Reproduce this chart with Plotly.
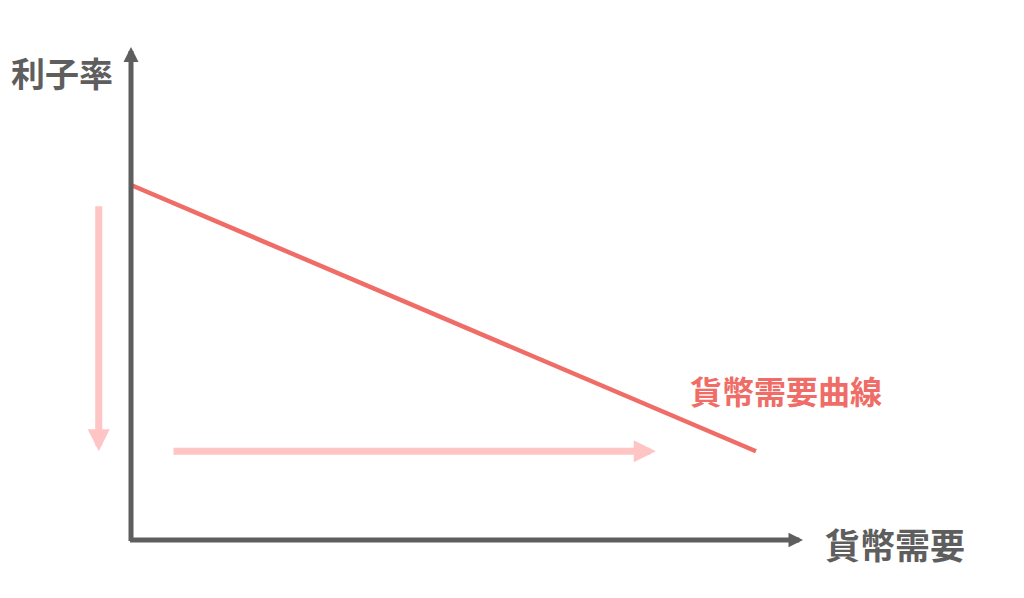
import plotly.graph_objects as go

# ---- data (conceptual units: x 0..100, y 0..100) ----
demand_x = [0, 93]          # money demand
demand_y = [72, 18]         # interest rate
down_arrow_x = [-4.8, -4.8]
down_arrow_y = [68, 18]
right_arrow_x = [6.1, 78.1]
right_arrow_y = [18, 18]
axis_x_max = 100
axis_y_max = 100
y_label = "利子率"
x_label = "貨幣需要"
curve_label = "貨幣需要曲線"

W, H = 1024, 598
L, R, T, B = 131, 221, 47, 58
px_x = (W - L - R) / axis_x_max
px_y = (H - T - B) / axis_y_max

AXIS = "#5e5e5e"
RED = "#f06c66"
PINK = "#ffc4c4"
FONT = "Noto Sans CJK JP"

fig = go.Figure()
fig.add_trace(go.Scatter(x=demand_x, y=demand_y, mode="lines",
                         line=dict(color=RED, width=4.5), cliponaxis=False,
                         hoverinfo="skip", showlegend=False))

def arrow(x0, y0, x1, y1, color, width, size):
    fig.add_annotation(x=x1, y=y1, ax=x0, ay=y0, xref="x", yref="y",
                       axref="x", ayref="y", text="", showarrow=True,
                       arrowhead=2, arrowsize=size, arrowwidth=width,
                       arrowcolor=color, standoff=0)

off_x = 2.5 / px_x
off_y = 2.5 / px_y
# axes
arrow(0, -off_y, 0, axis_y_max, AXIS, 5, 0.6)
arrow(-off_x, 0, axis_x_max, 0, AXIS, 5, 0.58)
# movement arrows
arrow(down_arrow_x[0], down_arrow_y[0], down_arrow_x[1], down_arrow_y[1], PINK, 7, 0.63)
arrow(right_arrow_x[0], right_arrow_y[0], right_arrow_x[1], right_arrow_y[1], PINK, 7, 0.63)

fig.add_annotation(x=(62 - L) / px_x, y=(H - B - 72) / px_y, text=f"<b>{y_label}</b>",
                   showarrow=False, font=dict(family=FONT, size=34, color=AXIS))
fig.add_annotation(x=(895 - L) / px_x, y=(H - B - 543) / px_y, text=f"<b>{x_label}</b>",
                   showarrow=False, font=dict(family=FONT, size=35, color=AXIS))
fig.add_annotation(x=(786 - L) / px_x, y=(H - B - 390) / px_y, text=f"<b>{curve_label}</b>",
                   showarrow=False, font=dict(family=FONT, size=32, color=RED))

fig.update_layout(width=W, height=H, margin=dict(l=0, r=0, t=0, b=0),
                  paper_bgcolor="white", plot_bgcolor="white",
                  xaxis=dict(range=[-L / px_x, (W - L) / px_x], visible=False, fixedrange=True),
                  yaxis=dict(range=[-B / px_y, (H - B) / px_y], visible=False, fixedrange=True))
fig.write_html("out.html", config={"displayModeBar": False},
               post_script="document.body.style.margin='0';")
